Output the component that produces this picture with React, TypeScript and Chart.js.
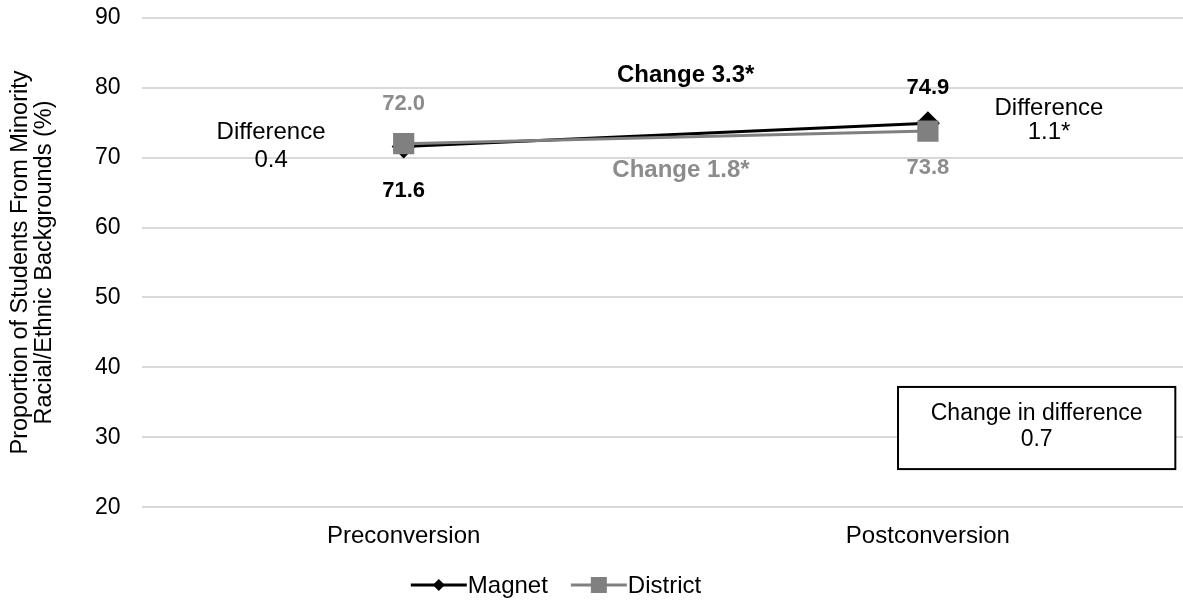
import React, { useEffect, useRef } from "react";
import { Chart, registerables } from "chart.js";

Chart.register(...registerables);

const categories = ["Preconversion", "Postconversion"];
const seriesNames = ["Magnet", "District"];
const magnetValues = [71.6, 74.9];
const districtValues = [72.0, 73.8];
const yMin = 20;
const yMax = 90;
const yStep = 10;
const yTitle = ["Proportion of Students From Minority", "Racial/Ethnic Backgrounds (%)"];
const changeLabels = ["Change 3.3*", "Change 1.8*"];
const differencePre = ["Difference", "0.4"];
const differencePost = ["Difference", "1.1*"];
const boxLines = ["Change in difference", "0.7"];

const FONT = "'Liberation Sans', Arial, sans-serif";
const MAGNET_COLOR = "#000000";
const DISTRICT_COLOR = "#808080";
const DISTRICT_TEXT = "#8c8c8c";
const CANVAS_W = 1190;
const CANVAS_H = 600;
const LEGEND_CX = 556;
const LEGEND_Y = 585;

const annotationPlugin = {
  id: "annotations",
  afterDatasetsDraw(chart: any) {
    const { ctx, scales } = chart;
    const xs = scales.x;
    const ys = scales.y;
    const x0 = xs.getPixelForValue(0);
    const x1 = xs.getPixelForValue(1);
    const xAt = (t: number) => x0 + t * (x1 - x0);
    const yAt = (v: number) => ys.getPixelForValue(v);
    ctx.save();
    ctx.textAlign = "center";
    ctx.textBaseline = "middle";

    // value labels
    ctx.font = `bold 22px ${FONT}`;
    ctx.fillStyle = DISTRICT_TEXT;
    ctx.fillText(districtValues[0].toFixed(1), x0, yAt(districtValues[0]) - 40);
    ctx.fillText(districtValues[1].toFixed(1), x1, yAt(districtValues[1]) + 37);
    ctx.fillStyle = MAGNET_COLOR;
    ctx.fillText(magnetValues[0].toFixed(1), x0, yAt(magnetValues[0]) + 44);
    ctx.fillText(magnetValues[1].toFixed(1), x1, yAt(magnetValues[1]) - 35);

    // change labels
    ctx.font = `bold 24px ${FONT}`;
    ctx.fillStyle = MAGNET_COLOR;
    ctx.fillText(changeLabels[0], xAt(0.538), yAt(81.8));
    ctx.fillStyle = DISTRICT_TEXT;
    ctx.fillText(changeLabels[1], xAt(0.529), yAt(68.2));

    // difference labels
    ctx.font = `24px ${FONT}`;
    ctx.fillStyle = "#000";
    ctx.fillText(differencePre[0], xAt(-0.253), yAt(73.65));
    ctx.fillText(differencePre[1], xAt(-0.253), yAt(69.63));
    ctx.fillText(differencePost[0], xAt(1.231), yAt(77.1));
    ctx.fillText(differencePost[1], xAt(1.231), yAt(73.65));

    // box
    const bx0 = xAt(0.943);
    const bx1 = xAt(1.472);
    const by0 = yAt(37.2);
    const by1 = yAt(25.45);
    ctx.fillStyle = "#fff";
    ctx.fillRect(bx0, by0, bx1 - bx0, by1 - by0);
    ctx.strokeStyle = "#000";
    ctx.lineWidth = 2;
    ctx.strokeRect(bx0, by0, bx1 - bx0, by1 - by0);
    ctx.font = `23px ${FONT}`;
    ctx.fillStyle = "#000";
    const bcx = (bx0 + bx1) / 2;
    const bcy = (by0 + by1) / 2;
    ctx.fillText(boxLines[0], bcx, bcy - 14);
    ctx.fillText(boxLines[1], bcx, bcy + 12);
    ctx.restore();
  },
};

const legendPlugin = {
  id: "lineLegend",
  afterDraw(chart: any) {
    const ctx = chart.ctx;
    const lineW = 56;
    const textGap = 1;
    const itemGap = 23;
    ctx.save();
    ctx.font = `24px ${FONT}`;
    ctx.textBaseline = "middle";
    ctx.textAlign = "left";
    const datasets = chart.data.datasets;
    const widths = datasets.map((ds: any) => lineW + textGap + ctx.measureText(ds.label).width);
    const total = widths.reduce((a: number, b: number) => a + b, 0) + itemGap * (datasets.length - 1);
    let x = LEGEND_CX - total / 2;
    datasets.forEach((ds: any, i: number) => {
      const color = ds.borderColor;
      ctx.strokeStyle = color;
      ctx.fillStyle = color;
      ctx.lineWidth = 3;
      ctx.beginPath();
      ctx.moveTo(x, LEGEND_Y);
      ctx.lineTo(x + lineW, LEGEND_Y);
      ctx.stroke();
      const cx = x + lineW / 2;
      ctx.beginPath();
      if (ds.pointStyle === "rectRot") {
        ctx.moveTo(cx, LEGEND_Y - 6);
        ctx.lineTo(cx + 6, LEGEND_Y);
        ctx.lineTo(cx, LEGEND_Y + 6);
        ctx.lineTo(cx - 6, LEGEND_Y);
        ctx.closePath();
      } else {
        ctx.rect(cx - 8, LEGEND_Y - 8, 16, 16);
      }
      ctx.fill();
      ctx.fillStyle = "#000";
      ctx.fillText(ds.label, x + lineW + textGap, LEGEND_Y + 1);
      x += widths[i] + itemGap;
    });
    ctx.restore();
  },
};

export default function App() {
  const ref = useRef<HTMLCanvasElement>(null);
  useEffect(() => {
    if (!ref.current) return;
    const chart = new Chart(ref.current, {
      type: "line",
      data: {
        labels: categories,
        datasets: [
          {
            label: seriesNames[0],
            data: magnetValues,
            borderColor: MAGNET_COLOR,
            backgroundColor: MAGNET_COLOR,
            borderWidth: 3,
            pointStyle: "rectRot",
            pointRadius: 12,
            pointBorderWidth: 0,
            order: 1,
          },
          {
            label: seriesNames[1],
            data: districtValues,
            borderColor: DISTRICT_COLOR,
            backgroundColor: DISTRICT_COLOR,
            borderWidth: 3,
            pointStyle: "rect",
            pointRadius: 15,
            pointBorderWidth: 0,
            order: 0,
          },
        ],
      },
      options: {
        responsive: false,
        animation: false,
        layout: { autoPadding: false, padding: { top: 0, left: 8, right: 0, bottom: 42 } },
        scales: {
          x: {
            offset: true,
            grid: { display: false },
            border: { display: false },
            ticks: { color: "#000", font: { family: FONT, size: 24 }, padding: 7 },
          },
          y: {
            min: yMin,
            max: yMax,
            ticks: { stepSize: yStep, color: "#000", font: { family: FONT, size: 23 }, padding: 4 },
            grid: { color: "#d9d9d9", lineWidth: 2, drawTicks: true, tickLength: 17, tickColor: "rgba(0,0,0,0)" },
            border: { display: false },
            title: {
              display: true,
              text: yTitle,
              color: "#000",
              font: { family: FONT, size: 23.5, lineHeight: 1.0 },
              padding: { top: 1, bottom: 35 },
            },
          },
        },
        plugins: {
          legend: { display: false },
          tooltip: { enabled: false },
        },
      },
      plugins: [annotationPlugin, legendPlugin],
    });
    return () => chart.destroy();
  }, []);
  return (
    <div style={{ position: "fixed", left: 0, top: 0, width: 1183, height: 600, overflow: "hidden", background: "#fff" }}>
      <canvas ref={ref} width={CANVAS_W} height={CANVAS_H} style={{ width: CANVAS_W, height: CANVAS_H, display: "block" }} />
    </div>
  );
}
